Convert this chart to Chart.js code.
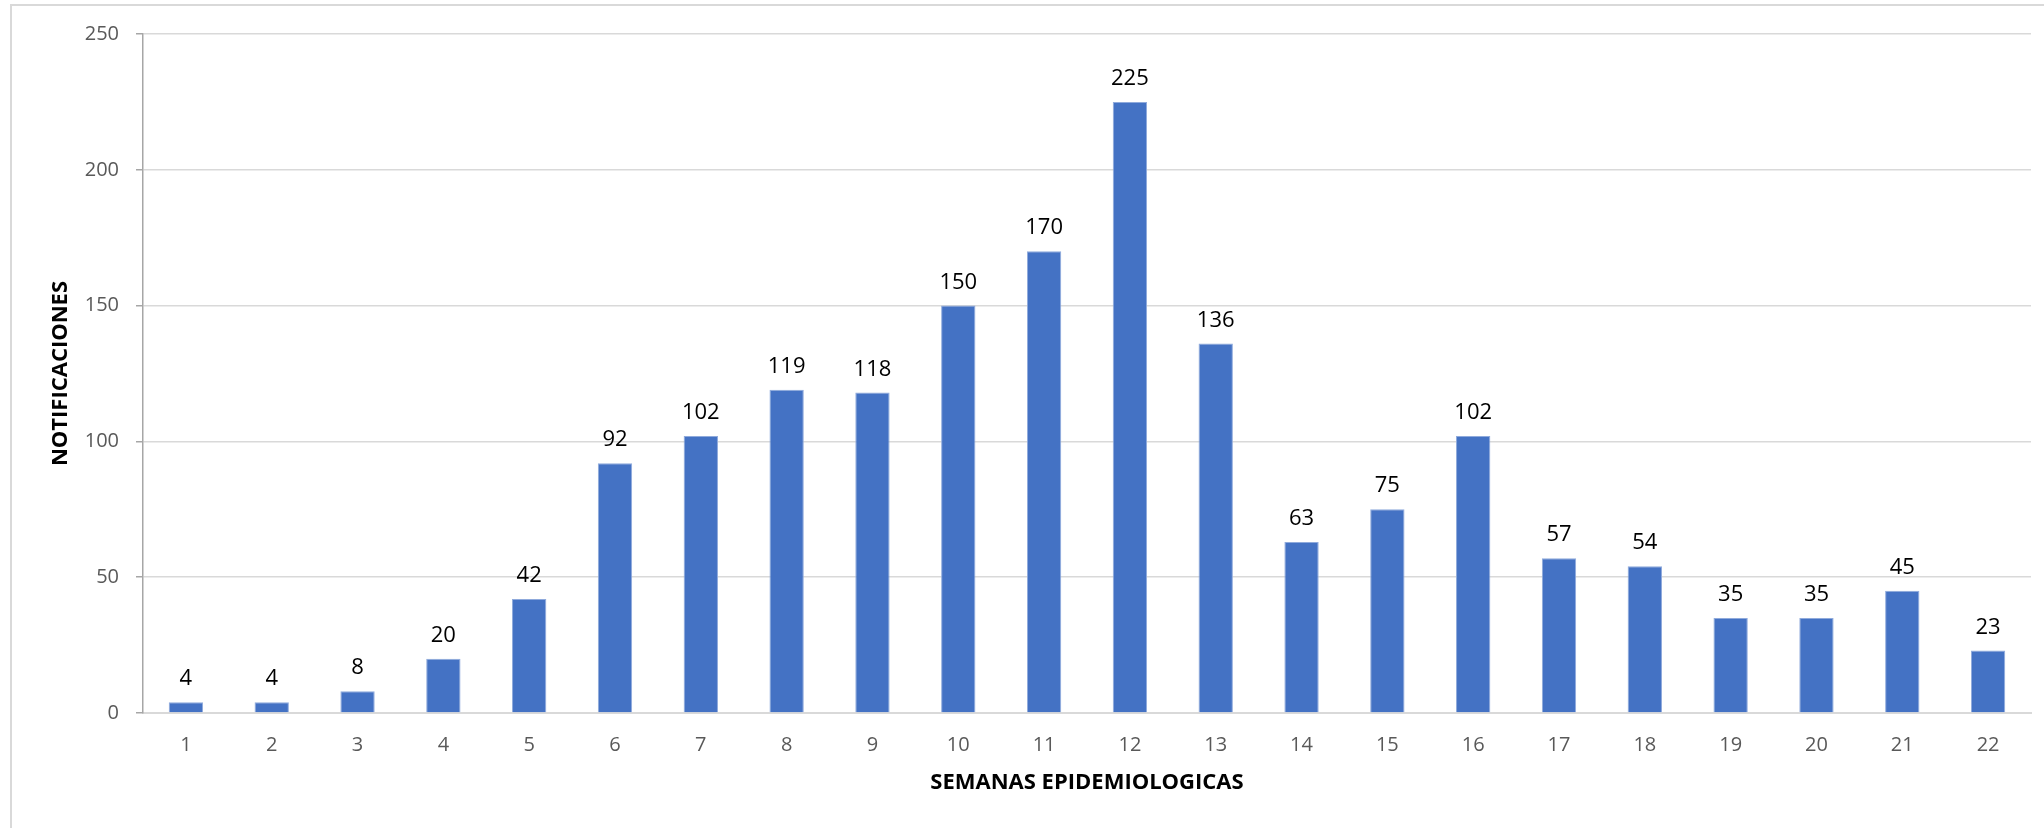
<!DOCTYPE html>
<html>
<head>
<meta charset="utf-8">
<script src="https://cdn.jsdelivr.net/npm/chart.js@4/dist/chart.umd.min.js"></script>
<style>
  html, body { margin: 0; padding: 0; background: #fff; }
  #wrap { position: relative; width: 2044px; height: 828px; overflow: hidden; }
  #frame { position: absolute; left: 10px; top: 4px; width: 2040px; height: 840px; border: 2px solid #d9d9d9; box-sizing: border-box; }
  canvas { position: absolute; left: 0; top: 0; }
</style>
</head>
<body>
<div id="wrap">
  <div id="frame"></div>
  <canvas id="chart" width="2044" height="828"></canvas>
</div>
<script>
// datos de la gráfica
const semanas = ['1','2','3','4','5','6','7','8','9','10','11','12','13','14','15','16','17','18','19','20','21','22'];
const notificaciones = [4, 4, 8, 20, 42, 92, 102, 119, 118, 150, 170, 225, 136, 63, 75, 102, 57, 54, 35, 35, 45, 23];
const yTicks = [0, 50, 100, 150, 200, 250];

const FONT = "'Open Sans', 'Noto Sans', sans-serif";

// etiquetas encima de cada barra
const valueLabels = {
    id: 'valueLabels',
    afterDatasetsDraw(chart) {
        const ctx = chart.ctx;
        const meta = chart.getDatasetMeta(0);
        ctx.save();
        ctx.font = '22px ' + FONT;
        ctx.fillStyle = '#000';
        ctx.textAlign = 'center';
        ctx.textBaseline = 'alphabetic';
        meta.data.forEach((bar, i) => {
            ctx.fillText(String(notificaciones[i]), bar.x, bar.y - 17);
        });
        ctx.restore();
    }
};

new Chart(document.getElementById('chart'), {
    type: 'bar',
    data: {
        labels: semanas,
        datasets: [{
            data: notificaciones,
            backgroundColor: '#4472c4',
            borderColor: '#8faadc',
            borderWidth: 1,
            categoryPercentage: 1,
            barPercentage: 0.4
        }]
    },
    options: {
        responsive: false,
        animation: false,
        events: [],
        layout: { padding: { left: 0, right: 13, top: 34, bottom: 0 } },
        plugins: { legend: { display: false }, tooltip: { enabled: false } },
        scales: {
            x: {
                grid: { display: false, drawTicks: false },
                border: { color: '#d9d9d9', width: 2 },
                ticks: { color: '#595959', font: { family: FONT, size: 20 }, padding: 20 },
                title: {
                    display: true, text: 'SEMANAS EPIDEMIOLOGICAS', color: '#000',
                    font: { family: FONT, size: 22, weight: 'bold' },
                    padding: { top: 0, bottom: 32 }
                },
                afterFit(scale) { scale.height = 115; }
            },
            y: {
                min: 0, max: 250,
                afterBuildTicks(scale) { scale.ticks = yTicks.map(v => ({ value: v })); },
                grid: { color: '#d9d9d9', lineWidth: 1.5, tickLength: 7, tickColor: '#a6a6a6' },
                border: { color: '#a6a6a6', width: 1.5 },
                ticks: { color: '#595959', font: { family: FONT, size: 20 }, padding: 17 },
                title: {
                    display: true, text: 'NOTIFICACIONES', color: '#000',
                    font: { family: FONT, size: 22, weight: 'bold' },
                    padding: { top: 48, bottom: 0 }
                },
                afterFit(scale) { scale.width = 143; }
            }
        }
    },
    plugins: [valueLabels]
});
</script>
</body>
</html>
